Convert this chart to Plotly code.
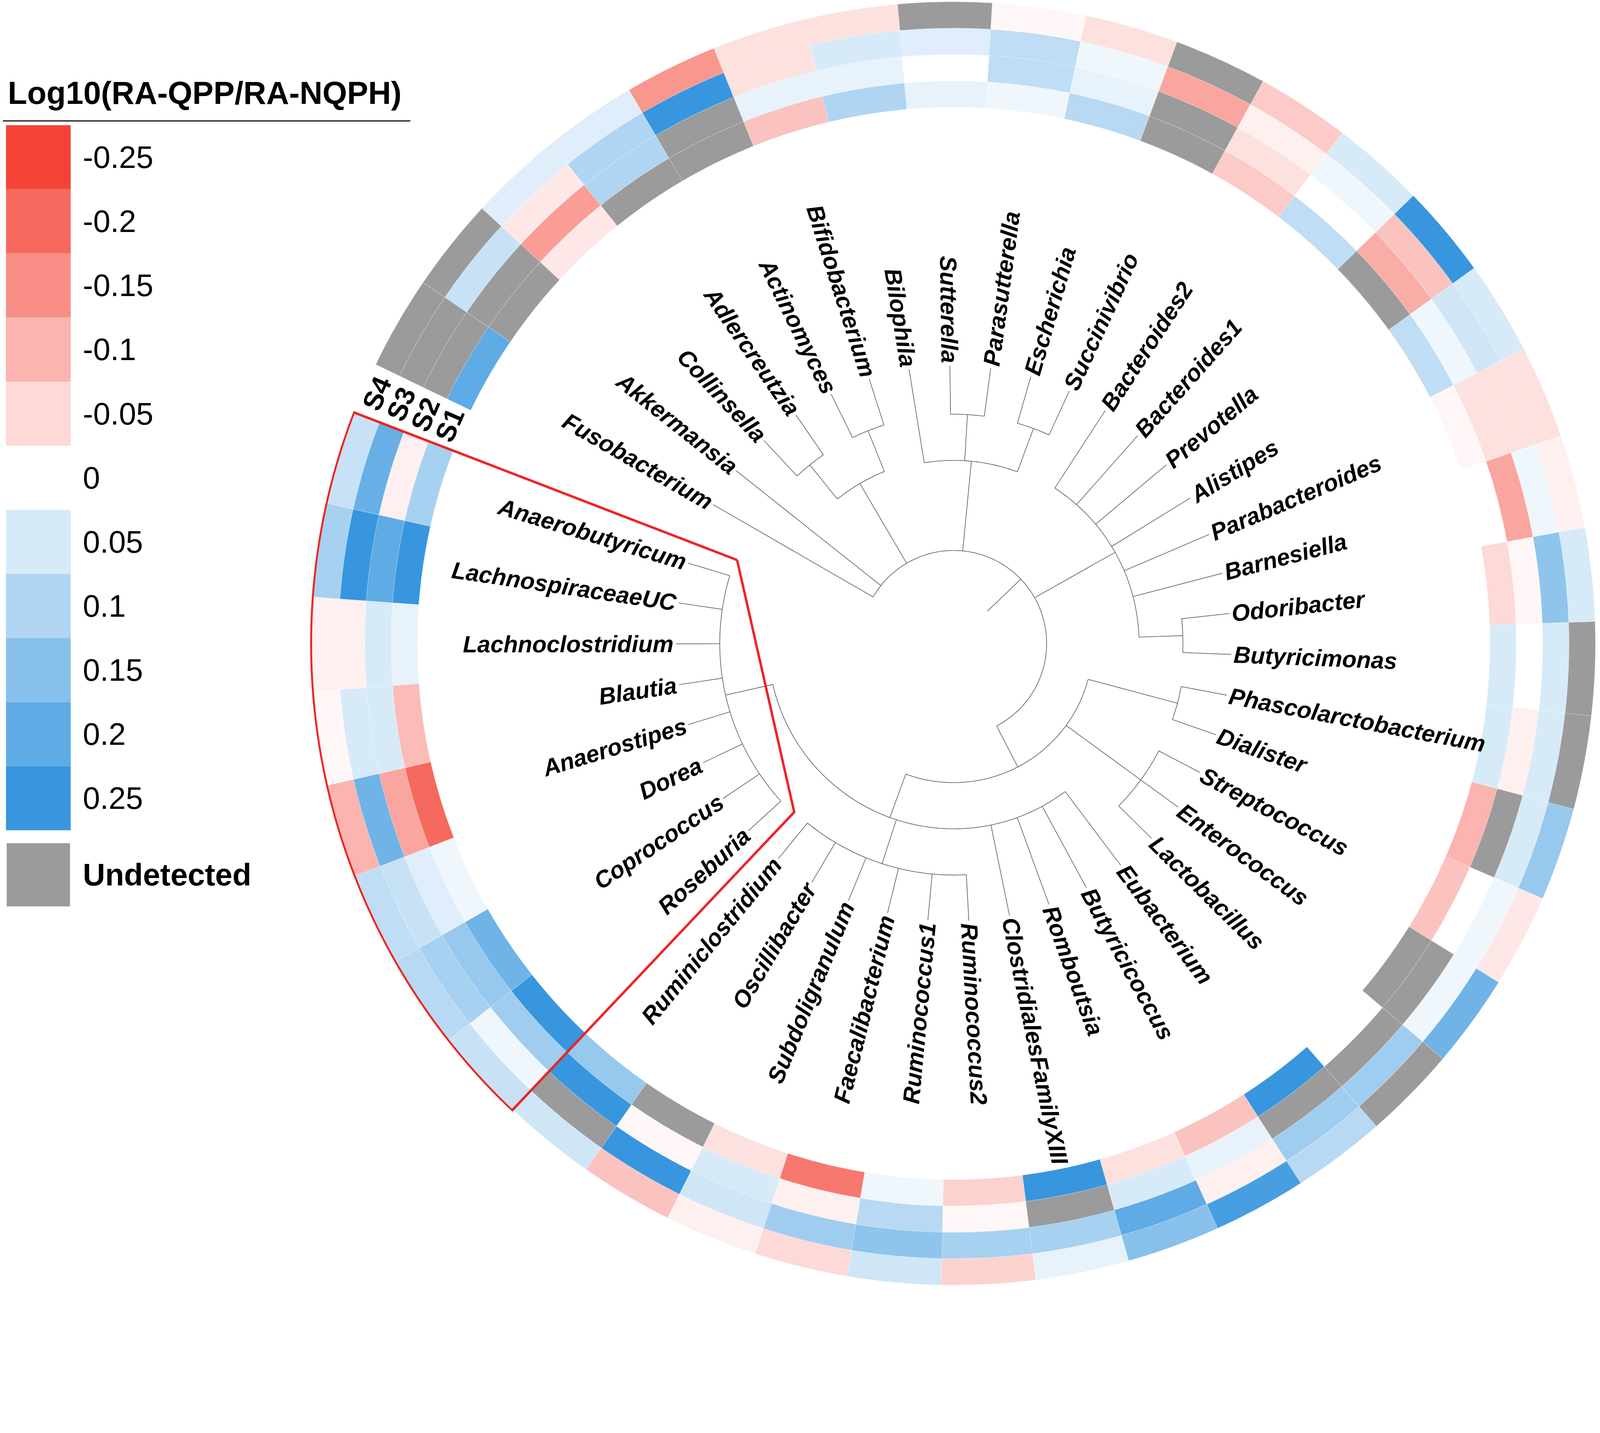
import math
import numpy as np
import plotly.graph_objects as go

# ---------------- data ----------------
genera = ["Fusobacterium", "Akkermansia", "Collinsella", "Adlercreutzia", "Actinomyces",
          "Bifidobacterium", "Bilophila", "Sutterella", "Parasutterella", "Escherichia",
          "Succinivibrio", "Bacteroides2", "Bacteroides1", "Prevotella", "Alistipes",
          "Parabacteroides", "Barnesiella", "Odoribacter", "Butyricimonas",
          "Phascolarctobacterium", "Dialister", "Streptococcus", "Enterococcus",
          "Lactobacillus", "Eubacterium", "Butyricicoccus", "Romboutsia",
          "ClostridialesFamilyXIII", "Ruminococcus2", "Ruminococcus1", "Faecalibacterium",
          "Subdoligranulum", "Oscillibacter", "Ruminiclostridium", "Roseburia", "Coprococcus",
          "Dorea", "Anaerostipes", "Blautia", "Lachnoclostridium", "LachnospiraceaeUC",
          "Anaerobutyricum"]

# log10(RA-QPP/RA-NQPH) per sample; None = undetected
S1 = [0.20, None, -0.03, None, None, -0.08, 0.10, 0.03, 0.02, 0.09, None, -0.07, 0.08, None,
      0.08, -0.01, 0.0, -0.05, 0.05, 0.05, -0.10, -0.08, None, 0.0, 0.25, -0.08, -0.04, 0.25,
      -0.06, 0.02, -0.18, -0.04, None, 0.13, 0.25, 0.18, 0.02, -0.20, -0.09, 0.03, 0.25, 0.11]
S2 = [None, None, -0.13, 0.10, None, 0.03, 0.03, 0.0, 0.08, 0.03, None, -0.04, 0.0, -0.11,
      0.02, -0.04, -0.12, -0.01, 0.0, -0.02, None, 0.0, None, None, None, 0.03, 0.05, None,
      -0.01, 0.09, -0.02, 0.05, -0.01, 0.25, 0.12, 0.13, 0.04, -0.12, 0.05, 0.05, 0.20, -0.02]
S3 = [None, 0.07, -0.03, 0.10, 0.25, -0.04, 0.05, 0.04, 0.08, 0.02, -0.12, -0.02, 0.02, -0.08,
      0.06, -0.04, 0.02, 0.14, 0.05, 0.05, 0.05, 0.02, 0.02, 0.12, 0.12, -0.02, 0.20, 0.11,
      0.11, 0.14, 0.12, 0.06, 0.25, None, 0.02, 0.11, 0.07, 0.18, 0.05, -0.02, 0.25, 0.19]
S4 = [None, None, 0.04, 0.04, -0.14, -0.04, -0.04, None, -0.01, -0.04, None, -0.07, 0.05, 0.25,
      0.05, -0.04, -0.02, 0.05, None, None, 0.13, -0.03, 0.18, None, 0.09, 0.23, 0.15, 0.03,
      -0.06, 0.06, -0.05, -0.02, -0.08, 0.06, 0.07, 0.09, 0.08, -0.10, -0.01, -0.02, 0.11, 0.07]
track_names = ["S1", "S2", "S3", "S4"]
tracks = {"S1": S1, "S2": S2, "S3": S3, "S4": S4}

highlighted = ["Roseburia", "Coprococcus", "Dorea", "Anaerostipes", "Blautia",
               "Lachnoclostridium", "LachnospiraceaeUC", "Anaerobutyricum"]

legend_title = "Log10(RA-QPP/RA-NQPH)"
legend_values = [-0.25, -0.2, -0.15, -0.1, -0.05, 0, 0.05, 0.1, 0.15, 0.2, 0.25]
undetected_label = "Undetected"


def node(h, *children):
    return {"h": h, "children": list(children)}


# clustering tree (merge heights in relative distance units)
tree = node(0.80,
            "Fusobacterium", "Akkermansia",
            node(0.40, node(0.21, "Collinsella", "Adlercreutzia"),
                 node(0.21, "Actinomyces", "Bifidobacterium")),
            node(0.41, "Bilophila", node(0.21, "Sutterella", "Parasutterella"),
                 node(0.21, "Escherichia", "Succinivibrio")),
            node(0.40, "Bacteroides2", "Bacteroides1", "Prevotella", "Alistipes",
                 "Parabacteroides", "Barnesiella", node(0.21, "Odoribacter", "Butyricimonas")),
            node(0.60,
                 node(0.20, "Phascolarctobacterium", "Dialister"),
                 node(0.20, "Streptococcus", "Enterococcus", "Lactobacillus"),
                 node(0.40, "Eubacterium", "Butyricicoccus", "Romboutsia",
                      "ClostridialesFamilyXIII",
                      node(0.20, "Ruminococcus2", "Ruminococcus1", "Faecalibacterium",
                           "Subdoligranulum", "Oscillibacter", "Ruminiclostridium"),
                      node(0.19, "Roseburia", "Coprococcus", "Dorea", "Anaerostipes", "Blautia",
                           "Lachnoclostridium", "LachnospiraceaeUC", "Anaerobutyricum"))))
ROOT_EDGE = 1.0

# ---------------- geometry / style ----------------
W, H = 4550, 3669
CX, CY = 2712, 1830          # centre of the circular plot (px from left / top)
RMAX = 1830
R_IN, TRACK = 1525, 75
GAP = 4.7
N = len(genera)
STEP = (360.0 - GAP) / N
THETA0 = 150.0
R_LEAF, R_ROOT = 790.0, 133.0
R_LABEL = 797.0
LABEL_SIZE = 67
FONT = "Liberation Sans, Arial, sans-serif"
LOW, MID, HIGH = (244, 67, 54), (255, 255, 255), (55, 150, 222)
GREY = "#9b9b9b"
VMIN, VMAX = -0.25, 0.25
colorscale = [[0, "rgb(%d,%d,%d)" % LOW], [0.5, "rgb(255,255,255)"], [1, "rgb(%d,%d,%d)" % HIGH]]


def scale_color(v):
    t = (v - VMIN) / (VMAX - VMIN)
    t = min(max(t, 0), 1)
    if t < 0.5:
        a, b, f = LOW, MID, t / 0.5
    else:
        a, b, f = MID, HIGH, (t - 0.5) / 0.5
    return "rgb(%d,%d,%d)" % tuple(round(a[i] + (b[i] - a[i]) * f) for i in range(3))


AW = {'A': 722, 'B': 722, 'C': 722, 'D': 722, 'E': 667, 'F': 611, 'G': 778, 'H': 722, 'I': 278,
      'J': 556, 'K': 722, 'L': 611, 'M': 833, 'N': 722, 'O': 778, 'P': 667, 'Q': 778, 'R': 722,
      'S': 667, 'T': 611, 'U': 722, 'V': 667, 'W': 944, 'X': 667, 'Y': 667, 'Z': 611,
      'a': 556, 'b': 611, 'c': 556, 'd': 611, 'e': 556, 'f': 333, 'g': 611, 'h': 611, 'i': 278,
      'j': 278, 'k': 556, 'l': 278, 'm': 889, 'n': 611, 'o': 611, 'p': 611, 'q': 611, 'r': 389,
      's': 556, 't': 333, 'u': 611, 'v': 556, 'w': 778, 'x': 556, 'y': 556, 'z': 500}


def text_width(s, size):
    return sum(AW.get(ch, 556) for ch in s) * size / 1000.0


leaf_index = {g: i for i, g in enumerate(genera)}
theta = [THETA0 - i * STEP for i in range(N)]     # unwrapped, clockwise


def rad(d):
    return float(R_LEAF - d * (R_LEAF - R_ROOT))


fig = go.Figure()

# ---------------- heatmap ring ----------------
for k, name in enumerate(track_names):
    vals = tracks[name]
    base = R_IN + k * TRACK
    det = [i for i, v in enumerate(vals) if v is not None]
    und = [i for i, v in enumerate(vals) if v is None]
    fig.add_trace(go.Barpolar(
        r=[TRACK] * len(det), base=[base] * len(det),
        theta=[float(theta[i] % 360) for i in det], width=[STEP] * len(det),
        marker=dict(color=[vals[i] for i in det], colorscale=colorscale, cmin=VMIN, cmax=VMAX,
                    line=dict(width=1.2, color="rgba(255,255,255,0.35)")),
        showlegend=False, hoverinfo="skip"))
    if und:
        fig.add_trace(go.Barpolar(
            r=[TRACK] * len(und), base=[base] * len(und),
            theta=[float(theta[i] % 360) for i in und], width=[STEP] * len(und),
            marker=dict(color=GREY, line=dict(width=1.2, color="rgba(255,255,255,0.35)")),
            showlegend=False, hoverinfo="skip"))

# ---------------- dendrogram ----------------
seg_r, seg_t = [], []


def add_line(r1, r2, t):
    seg_r.extend([float(r1), float(r2), None])
    seg_t.extend([float(t), float(t), None])


def add_arc(r, t1, t2):
    n = max(2, int(abs(t2 - t1) / 0.4) + 1)
    ts = [float(v) for v in np.linspace(t1, t2, n)]
    seg_r.extend([float(r)] * n + [None])
    seg_t.extend(ts + [None])


def layout_node(nd):
    if isinstance(nd, str):
        return theta[leaf_index[nd]], 0.0
    angles = []
    for ch in nd["children"]:
        a, dch = layout_node(ch)
        angles.append(a)
        add_line(rad(nd["h"]), rad(dch), a)
    add_arc(rad(nd["h"]), angles[0], angles[-1])
    return (angles[0] + angles[-1]) / 2.0, nd["h"]


root_angle, _ = layout_node(tree)
add_line(rad(ROOT_EDGE), rad(tree["h"]), root_angle)

fig.add_trace(go.Scatterpolar(r=seg_r, theta=seg_t, mode="lines", connectgaps=False,
                              line=dict(color="#5a5a5a", width=1.8),
                              showlegend=False, hoverinfo="skip"))

# ---------------- highlight box ----------------
hi = [leaf_index[g] for g in highlighted]
t_a = theta[max(hi)] - STEP / 2          # gap side
t_b = theta[min(hi)] + STEP / 2          # opposite side
R_BOX_OUT, R_BOX_IN = 1828, 660
arc_t = [float(v) for v in np.linspace(t_a, t_b, 200)]
box_r = [R_BOX_IN, R_BOX_OUT] + [R_BOX_OUT] * len(arc_t) + [R_BOX_IN, R_BOX_IN]
box_t = [t_a, t_a] + arc_t + [t_b, t_a]
fig.add_trace(go.Scatterpolar(r=box_r, theta=box_t, mode="lines",
                              line=dict(color="#ee2424", width=7),
                              showlegend=False, hoverinfo="skip"))

# invisible cartesian overlay (same square as the polar plot) for rotated labels
fig.add_trace(go.Scatter(x=[0], y=[0], mode="markers", marker=dict(opacity=0),
                         showlegend=False, hoverinfo="skip"))

annotations = []
for i, g in enumerate(genera):
    th = theta[i]
    thn = ((th + 180) % 360) - 180
    w = text_width(g, LABEL_SIZE)
    rc = R_LABEL + w / 2
    x, y = rc * math.cos(math.radians(th)), rc * math.sin(math.radians(th))
    if -90 < thn <= 90:
        ang = -thn
    else:
        ang = 180 - thn
    ang = ((ang + 180) % 360) - 180
    annotations.append(dict(x=x, y=y, xref="x", yref="y", text=g, showarrow=False,
                            textangle=ang, xanchor="center", yanchor="middle",
                            font=dict(family=FONT, size=LABEL_SIZE, color="black",
                                      weight="bold", style="italic")))

# sample labels in the gap
t_gap = theta[0] + STEP / 2 + GAP / 2
for k, name in enumerate(track_names):
    r = R_IN + TRACK * (k + 0.5)
    x, y = r * math.cos(math.radians(t_gap)), r * math.sin(math.radians(t_gap))
    annotations.append(dict(x=x, y=y, xref="x", yref="y", text=name, showarrow=False,
                            textangle=-(t_gap - 90), xanchor="center", yanchor="middle",
                            font=dict(family=FONT, size=78, color="black", weight="bold")))

# ---------------- legend ----------------
shapes = []


def px(xp):
    return xp / W


def py(yp):
    return 1 - yp / H


LEG_X0, LEG_X1, LEG_TOP, LEG_STEP = 17, 201, 356, 182.3
annotations.append(dict(x=px(20), y=py(264), xref="paper", yref="paper", text=legend_title,
                        showarrow=False, xanchor="left", yanchor="middle",
                        font=dict(family=FONT, size=90, color="black", weight="bold")))
shapes.append(dict(type="line", xref="paper", yref="paper", x0=px(8), x1=px(1167),
                   y0=py(344), y1=py(344), line=dict(color="black", width=3)))
for j, v in enumerate(legend_values):
    y0 = LEG_TOP + j * LEG_STEP
    y1 = y0 + LEG_STEP
    if v != 0:
        shapes.append(dict(type="rect", xref="paper", yref="paper", x0=px(LEG_X0), x1=px(LEG_X1),
                           y0=py(y1), y1=py(y0), fillcolor=scale_color(v), line=dict(width=0)))
    annotations.append(dict(x=px(233), y=py((y0 + y1) / 2), xref="paper", yref="paper",
                            text=f"{v:g}", showarrow=False, xanchor="left", yanchor="middle",
                            font=dict(family=FONT, size=88, color="black")))
shapes.append(dict(type="rect", xref="paper", yref="paper", x0=px(19), x1=px(199),
                   y0=py(2578), y1=py(2398), fillcolor=GREY, line=dict(width=0)))
annotations.append(dict(x=px(233), y=py(2488), xref="paper", yref="paper", text=undetected_label,
                        showarrow=False, xanchor="left", yanchor="middle",
                        font=dict(family=FONT, size=88, color="black", weight="bold")))

dom_x = [(CX - RMAX) / W, (CX + RMAX) / W]
dom_y = [1 - (CY + RMAX) / H, 1 - (CY - RMAX) / H]

fig.update_layout(
    width=W, height=H, autosize=False,
    margin=dict(l=0, r=0, t=0, b=0),
    paper_bgcolor="white", plot_bgcolor="rgba(0,0,0,0)",
    showlegend=False,
    polar=dict(domain=dict(x=dom_x, y=dom_y), bgcolor="rgba(0,0,0,0)", barmode="overlay",
               radialaxis=dict(visible=False, range=[0, RMAX]),
               angularaxis=dict(visible=False, rotation=0, direction="counterclockwise")),
    xaxis=dict(domain=dom_x, range=[-RMAX, RMAX], visible=False, fixedrange=True),
    yaxis=dict(domain=dom_y, range=[-RMAX, RMAX], visible=False, fixedrange=True),
    annotations=annotations, shapes=shapes,
)

# If the browser's CSS viewport is narrower than the design size, redraw the figure
# proportionally smaller (sizes, fonts and line widths) so it fits exactly.
fit_script = """
(function () {
  var gd = document.getElementById('{plot_id}');
  document.documentElement.style.margin = '0';
  document.body.style.margin = '0';
  var W = %d, H = %d;
  var k = Math.min(window.innerWidth / W, window.innerHeight / H, 1);
  if (k < 0.999) {
    var data = JSON.parse(JSON.stringify(gd.data));
    var layout = JSON.parse(JSON.stringify(gd.layout));
    layout.width = W * k;
    layout.height = H * k;
    (layout.annotations || []).forEach(function (a) { if (a.font && a.font.size) a.font.size *= k; });
    (layout.shapes || []).forEach(function (s) { if (s.line && s.line.width) s.line.width *= k; });
    data.forEach(function (t) {
      if (t.line && t.line.width) t.line.width *= k;
      if (t.marker && t.marker.line && t.marker.line.width) t.marker.line.width *= k;
    });
    gd.style.width = (W * k) + 'px';
    gd.style.height = (H * k) + 'px';
    Plotly.newPlot(gd, data, layout, {displayModeBar: false});
  }
})();
""" % (W, H)

fig.write_html("out.html", post_script=fit_script, config={"displayModeBar": False})
